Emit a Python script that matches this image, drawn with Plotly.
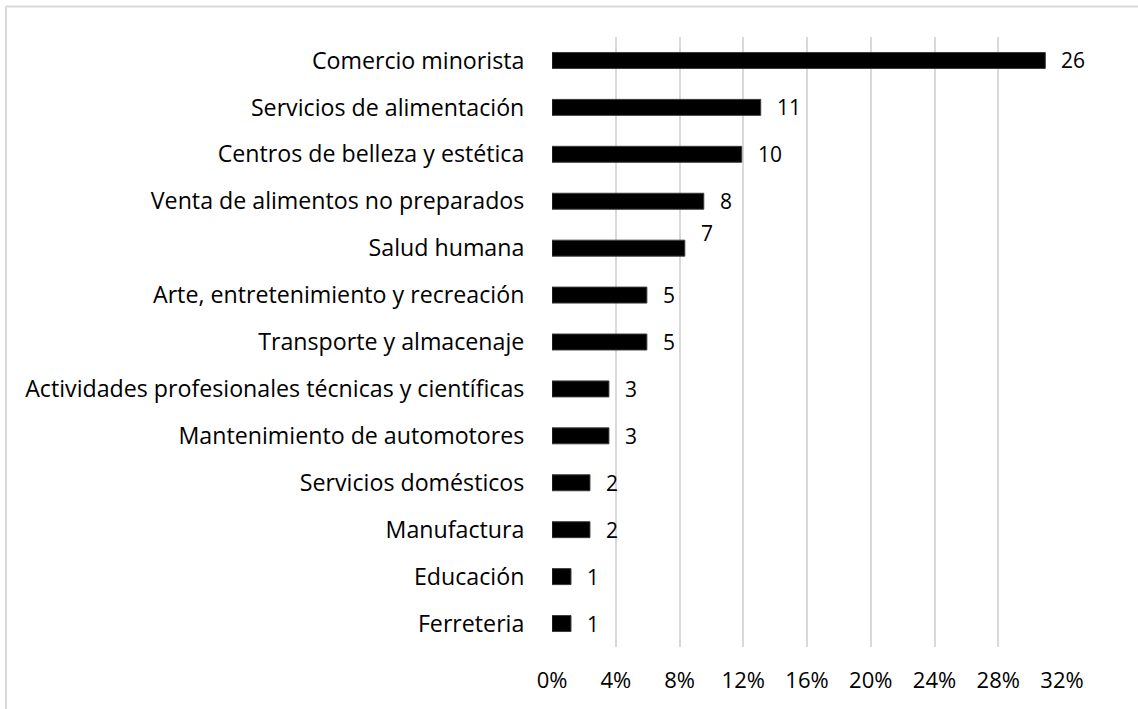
import plotly.graph_objects as go

# Sectors (top to bottom) and number of businesses in each
sectores = [
    "Comercio minorista",
    "Servicios de alimentación",
    "Centros de belleza y estética",
    "Venta de alimentos no preparados",
    "Salud humana",
    "Arte, entretenimiento y recreación",
    "Transporte y almacenaje",
    "Actividades profesionales técnicas y científicas",
    "Mantenimiento de automotores",
    "Servicios domésticos",
    "Manufactura",
    "Educación",
    "Ferreteria",
]
cantidades = [26, 11, 10, 8, 7, 5, 5, 3, 3, 2, 2, 1, 1]

# Tick values and labels for the percentage axis
ticks_x = [0, 0.04, 0.08, 0.12, 0.16, 0.20, 0.24, 0.28, 0.32]
ticks_x_txt = ["0%", "4%", "8%", "12%", "16%", "20%", "24%", "28%", "32%"]

total = sum(cantidades)
porcentajes = [c / total for c in cantidades]

FONT = "Open Sans"
FS_CAT = 23.2
FS_NUM = 21
FS_TICK = 22

fig = go.Figure(
    go.Bar(
        x=porcentajes,
        y=sectores,
        orientation="h",
        width=0.34,
        marker=dict(color="#000000", line=dict(color="#3a3a3a", width=1)),
        hoverinfo="skip",
    )
)

# Count labels to the right of each bar
for s, c, p in zip(sectores, cantidades, porcentajes):
    fig.add_annotation(
        x=p, y=s, text=str(c), showarrow=False,
        xanchor="left", yanchor="middle", xshift=14,
        yshift=15 if s == "Salud humana" else 0,
        font=dict(family=FONT, size=FS_NUM, color="#000000"),
    )

# Light frame along the top and left edges
fig.add_shape(type="line", xref="paper", yref="paper",
              x0=-1.0706, x1=1.2, y0=1.0499, y1=1.0499,
              line=dict(color="#d9d9d9", width=2))
fig.add_shape(type="line", xref="paper", yref="paper",
              x0=-1.0706, x1=-1.0706, y0=1.0499, y1=-0.2,
              line=dict(color="#d9d9d9", width=2))

fig.update_layout(
    width=1138, height=709,
    margin=dict(l=552, r=76, t=36.5, b=61.5),
    paper_bgcolor="white", plot_bgcolor="white",
    showlegend=False,
    font=dict(family=FONT, size=FS_TICK, color="#000000"),
    bargap=0.66,
    xaxis=dict(
        range=[0, 0.32], tickvals=ticks_x, ticktext=ticks_x_txt,
        showgrid=True, gridcolor="#d9d9d9", gridwidth=1.5,
        zeroline=False, showline=False,
        ticks="outside", ticklen=14, tickcolor="rgba(0,0,0,0)",
        tickfont=dict(family=FONT, size=FS_TICK, color="#000000"),
    ),
    yaxis=dict(
        categoryorder="array", categoryarray=sectores,
        autorange="reversed",
        showgrid=False, zeroline=False, showline=False,
        ticks="outside", ticklen=22, tickcolor="rgba(0,0,0,0)",
        tickfont=dict(family=FONT, size=FS_CAT, color="#000000"),
    ),
)

fig.write_html("out.html")
